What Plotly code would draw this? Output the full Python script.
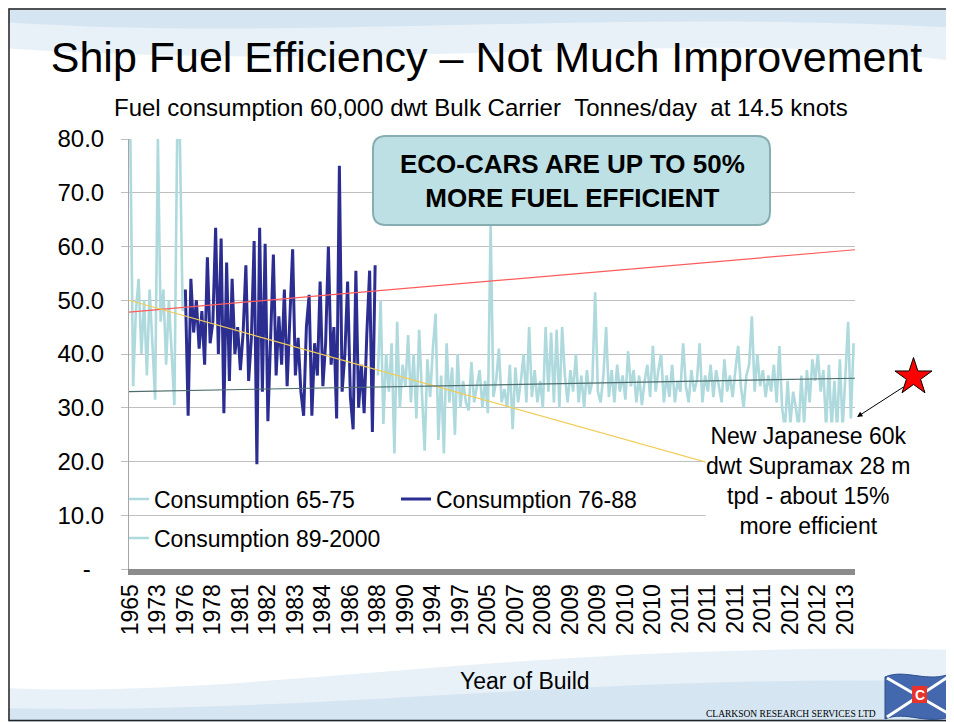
import math
import plotly.graph_objects as go

# ---------------- data ----------------
tick_labels = ["1965", "1973", "1976", "1978", "1981", "1982", "1983", "1984", "1986",
               "1988", "1990", "1994", "1997", "2005", "2007", "2008", "2009", "2009",
               "2010", "2010", "2011", "2011", "2011", "2011", "2012", "2012", "2013"]

consumption_65_75 = [80, 34, 48, 54, 40, 50, 36, 52, 42, 31.5,
                     80, 46, 52, 38, 50, 40, 30.5, 80, 80, 48]

consumption_76_88 = [52, 28.5, 54, 44, 50, 41, 48, 38, 58, 42,
                     46, 63.5, 40, 61.5, 29, 57, 35, 54, 40, 45,
                     37, 44, 56.5, 35, 43, 61, 19.5, 63.5, 33, 60.5,
                     27.5, 44, 58.5, 36, 47, 38, 52, 34, 46, 59.5,
                     36, 43, 33, 28.5, 45, 51, 28.5, 42, 36, 53.5,
                     34, 42, 60, 38, 45, 28, 75, 33, 40, 53.5,
                     32, 26, 55.5, 30, 38, 29, 44, 55.5, 25.5, 56.5]

consumption_89_2000 = [36, 50, 27, 40, 33, 42, 21.5, 46, 30, 38,
                       34, 43.5, 31, 40, 28, 44.5, 33, 22, 39, 32,
                       41, 47.5, 24, 36, 21.5, 42, 31, 37.5, 25, 40,
                       30, 35, 31, 29.5, 38.5, 31, 34, 37, 30, 35,
                       29, 64, 32, 35, 41, 31, 33.5, 30, 38, 26,
                       37.5, 31, 35, 40, 31, 45, 32, 37, 31, 35,
                       30, 45, 33, 44, 31, 44.5, 30, 45, 36, 31,
                       37, 33, 40, 31, 36, 30, 37, 32.5, 35, 51.5,
                       33, 31, 36, 45, 32, 37, 31, 38, 33, 36,
                       31.5, 40.5, 34, 37, 31, 36, 30.5, 35, 38, 32,
                       41.5, 33, 37, 40, 31, 36, 32, 38, 31, 35,
                       33, 42, 34, 31, 37, 33, 35, 42, 31, 36,
                       33, 38, 32, 37, 34, 31, 39, 33, 36, 32,
                       37, 41.5, 34, 30, 36, 38, 47, 33, 40, 34,
                       37, 32, 36, 33, 38, 31, 41.5, 30, 26, 35,
                       27, 33, 30, 26, 36, 27, 37, 31, 39, 35,
                       40, 33, 37, 26, 38, 26, 35, 26, 39, 26,
                       36, 46, 28, 42]

# linear trend lines: value at left edge, value at right edge
trend_red = [47.8, 59.4]
trend_yellow = [50.0, 12.1]
trend_dark = [33.0, 35.5]

y_ticks = [0, 10, 20, 30, 40, 50, 60, 70, 80]
y_tick_text = ["-\u00a0\u00a0", "10.0", "20.0", "30.0", "40.0", "50.0", "60.0", "70.0", "80.0"]

# ---------------- layout geometry ----------------
# the page body has an 8 px margin, so the figure starts at (8, 8) on the page
OFF = 8
PAGE_W, PAGE_H = 954, 722
WIDTH, HEIGHT = PAGE_W - OFF, PAGE_H - OFF
PLOT_LEFT, PLOT_RIGHT, PLOT_TOP, PLOT_BOTTOM = 129, 855, 139, 569   # page pixels
L = PLOT_LEFT - OFF
T = PLOT_TOP - OFF
R = PAGE_W - PLOT_RIGHT
B = PAGE_H - PLOT_BOTTOM
PW = PLOT_RIGHT - PLOT_LEFT
PH = PLOT_BOTTOM - PLOT_TOP


def px(x):
    return (x - PLOT_LEFT) / PW


def py(y):
    return (PLOT_BOTTOM - y) / PH


def pt(x, y):
    return f"{px(x):.5f},{py(y):.5f}"


FONT = "Liberation Sans, Arial, sans-serif"
LIGHT = "#aed9dd"
DARK = "#2b2d91"

n1, n2, n3 = len(consumption_65_75), len(consumption_76_88), len(consumption_89_2000)
N = n1 + n2 + n3
x1 = list(range(0, n1))
x2 = list(range(n1, n1 + n2))
x3 = list(range(n1 + n2, N))
x_edges = [-0.5, N - 0.5]

fig = go.Figure()
fig.add_trace(go.Scatter(x=x1, y=consumption_65_75, mode="lines", name="Consumption 65-75",
                         line=dict(color=LIGHT, width=2.6), legend="legend"))
fig.add_trace(go.Scatter(x=x3, y=consumption_89_2000, mode="lines", name="Consumption 89-2000",
                         line=dict(color=LIGHT, width=2.6), legend="legend2"))
fig.add_trace(go.Scatter(x=x2, y=consumption_76_88, mode="lines", name="Consumption 76-88",
                         line=dict(color=DARK, width=3), legend="legend"))
fig.add_trace(go.Scatter(x=x_edges, y=trend_red, mode="lines", showlegend=False,
                         line=dict(color="#ff5b5b", width=1.2)))
fig.add_trace(go.Scatter(x=x_edges, y=trend_yellow, mode="lines", showlegend=False,
                         line=dict(color="#f2cc55", width=1.2)))
fig.add_trace(go.Scatter(x=x_edges, y=trend_dark, mode="lines", showlegend=False,
                         line=dict(color="#4e6c6c", width=1.1)))

shapes = []
# background swooshes
shapes.append(dict(type="path", xref="paper", yref="paper", layer="below", line=dict(width=0),
                   fillcolor="rgba(190,214,236,0.35)",
                   path=f"M {pt(0,0)} L {pt(960,0)} L {pt(960,62)} C {pt(700,25)} {pt(420,75)} {pt(0,48)} Z"))
shapes.append(dict(type="path", xref="paper", yref="paper", layer="below", line=dict(width=0),
                   fillcolor="rgba(190,214,236,0.45)",
                   path=f"M {pt(0,0)} L {pt(960,0)} L {pt(960,28)} C {pt(600,8)} {pt(300,42)} {pt(0,22)} Z"))
shapes.append(dict(type="path", xref="paper", yref="paper", layer="below", line=dict(width=0),
                   fillcolor="rgba(190,214,236,0.35)",
                   path=f"M {pt(0,730)} L {pt(0,688)} C {pt(250,700)} {pt(520,640)} {pt(960,650)} L {pt(960,730)} Z"))
shapes.append(dict(type="path", xref="paper", yref="paper", layer="below", line=dict(width=0),
                   fillcolor="rgba(190,214,236,0.45)",
                   path=f"M {pt(0,730)} L {pt(0,708)} C {pt(300,716)} {pt(600,672)} {pt(960,682)} L {pt(960,730)} Z"))
# slide frame
shapes.append(dict(type="rect", xref="paper", yref="paper", x0=px(OFF + 1), x1=px(952.5),
                   y0=py(720.5), y1=py(OFF + 1),
                   line=dict(color="#222222", width=1.5), fillcolor="rgba(0,0,0,0)"))

# rounded callout box
bx0, by0, bx1, by1, r = 373, 136, 770, 225, 13
box_path = (f"M {pt(bx0 + r, by0)} L {pt(bx1 - r, by0)} Q {pt(bx1, by0)} {pt(bx1, by0 + r)} "
            f"L {pt(bx1, by1 - r)} Q {pt(bx1, by1)} {pt(bx1 - r, by1)} "
            f"L {pt(bx0 + r, by1)} Q {pt(bx0, by1)} {pt(bx0, by1 - r)} "
            f"L {pt(bx0, by0 + r)} Q {pt(bx0, by0)} {pt(bx0 + r, by0)} Z")
shapes.append(dict(type="path", xref="paper", yref="paper", path=box_path, layer="above",
                   fillcolor="#bde0e4", line=dict(color="#86aeb2", width=2)))

# red star
cx, cy, Ro = 913.5, 377, 19.5
Ri = Ro * 0.382
star_pts = []
for k in range(10):
    ang = math.radians(-90 + 36 * k)
    rad = Ro if k % 2 == 0 else Ri
    star_pts.append(pt(cx + rad * math.cos(ang), cy + rad * math.sin(ang)))
star_path = "M " + " L ".join(star_pts) + " Z"
shapes.append(dict(type="path", xref="paper", yref="paper", path=star_path,
                   fillcolor="#ff0000", line=dict(color="#000000", width=1)))

# logo flag
shapes.append(dict(type="path", xref="paper", yref="paper",
                   path=f"M {pt(885,677)} C {pt(905,668)} {pt(928,684)} {pt(952,673)} L {pt(952,716)} "
                        f"C {pt(928,726)} {pt(905,710)} {pt(885,719)} Z",
                   fillcolor="#4468ae", line=dict(color="#2f4f8f", width=1)))
shapes.append(dict(type="line", xref="paper", yref="paper", x0=px(887), y0=py(678), x1=px(951), y1=py(715),
                   line=dict(color="#ffffff", width=3)))
shapes.append(dict(type="line", xref="paper", yref="paper", x0=px(887), y0=py(717), x1=px(951), y1=py(675),
                   line=dict(color="#ffffff", width=3)))
shapes.append(dict(type="rect", xref="paper", yref="paper", x0=px(912), x1=px(927), y0=py(703), y1=py(686),
                   fillcolor="#e8332b", line=dict(width=0)))

annotations = [
    dict(text="Fuel consumption 60,000 dwt Bulk Carrier\u00a0\u00a0Tonnes/day\u00a0\u00a0at 14.5 knots",
         x=px(480.5), y=py(107), xref="paper", yref="paper", showarrow=False,
         xanchor="center", yanchor="middle", font=dict(size=24, color="#000000", family=FONT)),
    dict(text="<b>ECO-CARS ARE UP TO 50%<br>MORE FUEL EFFICIENT</b>",
         x=px(572), y=py(181), xref="paper", yref="paper", showarrow=False,
         xanchor="center", yanchor="middle", align="center",
         font=dict(size=26, color="#000000", family=FONT)),
    dict(text="New Japanese 60k<br>dwt Supramax 28 m<br>tpd - about 15%<br>more efficient",
         x=px(808), y=py(481), xref="paper", yref="paper", showarrow=False,
         xanchor="center", yanchor="middle", align="center", bgcolor="#ffffff", borderpad=0,
         font=dict(size=23, color="#000000", family=FONT)),
    dict(text="", x=px(857), y=py(417), xref="paper", yref="paper", showarrow=True,
         ax=48, ay=-31, arrowhead=2, arrowsize=1.1, arrowwidth=1, arrowcolor="#000000", standoff=0),
    dict(text="Year of Build", x=px(525), y=py(681), xref="paper", yref="paper", showarrow=False,
         xanchor="center", yanchor="middle", font=dict(size=23, color="#000000", family=FONT)),
    dict(text="CLARKSON RESEARCH SERVICES LTD", x=px(878), y=py(714), xref="paper", yref="paper",
         showarrow=False, xanchor="right", yanchor="middle",
         font=dict(size=9.5, color="#000000", family="Liberation Serif, Times New Roman, serif")),
    dict(text="<b>C</b>", x=px(919.5), y=py(694.5), xref="paper", yref="paper", showarrow=False,
         xanchor="center", yanchor="middle", font=dict(size=14, color="#ffffff", family=FONT)),
]

legend_common = dict(orientation="h", xanchor="left", yanchor="middle",
                     bgcolor="rgba(0,0,0,0)", borderwidth=0, indentation=-15,
                     font=dict(size=23, color="#000000", family=FONT),
                     entrywidth=252, entrywidthmode="pixels", itemwidth=30, traceorder="normal")

fig.update_layout(
    width=WIDTH, height=HEIGHT, autosize=False,
    margin=dict(l=L, r=R, t=T, b=B, pad=0),
    paper_bgcolor="#ffffff", plot_bgcolor="rgba(0,0,0,0)",
    font=dict(family=FONT, color="#000000"),
    title=dict(text="Ship Fuel Efficiency \u2013 Not Much Improvement", x=(486.5 - OFF) / WIDTH,
               y=1 - (57 - OFF) / HEIGHT, xref="container", yref="container",
               xanchor="center", yanchor="middle",
               font=dict(size=43, color="#000000", family=FONT)),
    legend=dict(x=0, y=py(499), **legend_common),
    legend2=dict(x=0, y=py(538), **legend_common),
    xaxis=dict(range=x_edges, tickmode="array",
               tickvals=[10 * i for i in range(len(tick_labels))], ticktext=tick_labels,
               tickangle=-90, showgrid=False, zeroline=False, showline=True,
               linecolor="#8c8c8c", linewidth=6, ticks="",
               tickfont=dict(size=23, color="#000000", family=FONT)),
    yaxis=dict(range=[0, 80], tickmode="array", tickvals=y_ticks, ticktext=y_tick_text,
               showgrid=True, gridcolor="#bfbfbf", gridwidth=1.2, zeroline=False,
               showline=True, linecolor="#a6a6a6", linewidth=1,
               ticks="outside", ticklen=7, tickcolor="#bfbfbf", ticklabelstandoff=12,
               tickfont=dict(size=24, color="#000000", family=FONT)),
    shapes=shapes, annotations=annotations, showlegend=True, hovermode=False,
)

fig.write_html("out.html")
